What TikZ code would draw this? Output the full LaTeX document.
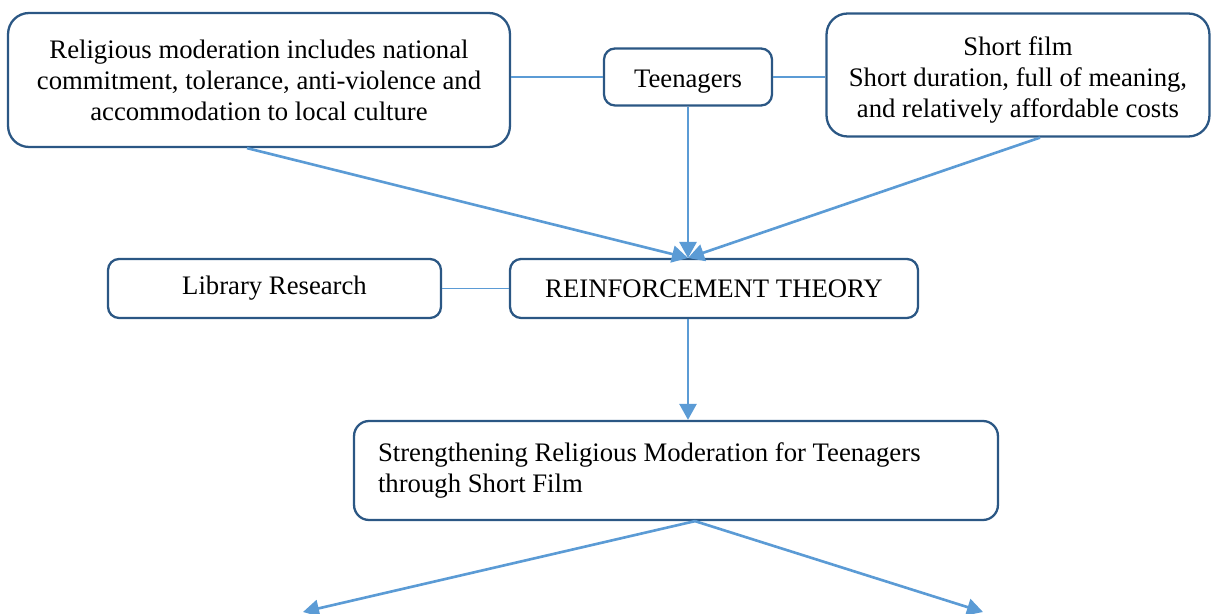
\documentclass[tikz,border=0pt]{standalone}
\usepackage{fontspec}
\setmainfont{Liberation Serif}
\usetikzlibrary{arrows.meta}
\definecolor{boxline}{HTML}{2B5784}
\definecolor{linkline}{HTML}{5B9BD5}
\tikzset{
  box/.style={draw=boxline, line width=1.3pt, rounded corners=0.22cm, align=center,
    font=\fontsize{15.2}{17.6}\selectfont, inner sep=0pt},
  bigbox/.style={box, rounded corners=0.42cm},
  link/.style={draw=linkline, line width=0.6pt},
  arrow/.style={draw=linkline, line width=1.5pt, -{Triangle[length=0.32cm,width=0.34cm]}}
}
\begin{document}
\begin{tikzpicture}[x=0.02cm,y=-0.02cm]
      \useasboundingbox (0,0) rectangle (1211,614);
      \draw
        (259,80) node[bigbox, minimum width=10.04cm, minimum height=2.68cm] (A)
          {Religious moderation includes national\\commitment, tolerance, anti-violence and\\accommodation to local culture}
        (688,77) node[box, minimum width=3.36cm, minimum height=1.14cm] (teen) {\rule{0pt}{0.52cm}Teenagers}
        (1018,75) node[bigbox, minimum width=7.66cm, minimum height=2.46cm] (film)
          {\rule{0pt}{0.58cm}Short film\\Short duration, full of meaning,\\and relatively affordable costs}
        (274.5,288.5) node[box, minimum width=6.66cm, minimum height=1.18cm] (lib) {Library Research}
        (714,288.5) node[box, minimum width=8.16cm, minimum height=1.18cm] (theory) {REINFORCEMENT THEORY}
        (676,470.5) node[bigbox, rounded corners=0.3cm, align=flush left, text width=11.92cm, inner xsep=0.48cm,
          minimum height=1.98cm] (strong)
          {Strengthening Religious Moderation for Teenagers\\through Short Film};
      \coordinate (hub) at (688,258);
      \coordinate (outL) at (303,612);
      \coordinate (outR) at (983,612);
      \begin{scope}[link]
        \draw (teen.west -| A.east) to (teen.west);
        \draw (teen.east) to (teen.east -| film.west);
        \draw (lib.east) to (theory.west);
      \end{scope}
      \begin{scope}[arrow]
        \draw ([xshift=-0.24cm]A.south) to (hub);
        \draw (teen.south) to (hub);
        \draw ([xshift=0.44cm]film.south) to (hub);
        \draw (theory.south -| hub) to (strong.north -| hub);
        \draw ([xshift=0.38cm]strong.south) to (outL);
        \draw ([xshift=0.38cm]strong.south) to (outR);
      \end{scope}
    \end{tikzpicture}
\end{document}
